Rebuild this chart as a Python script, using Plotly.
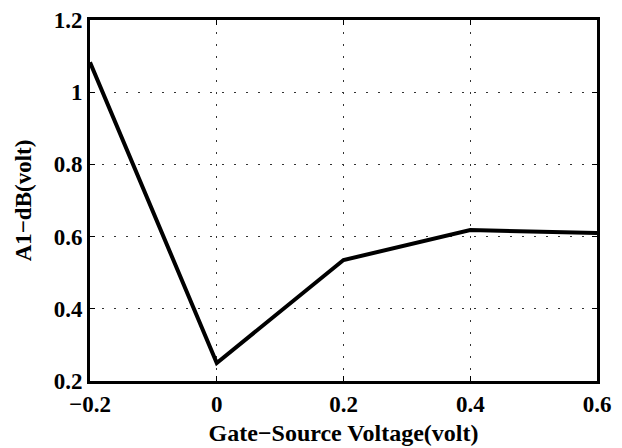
import plotly.graph_objects as go

x_vals = [-0.2, 0.0, 0.2, 0.4, 0.6]
y_vals = [1.083, 0.25, 0.535, 0.618, 0.61]
x_ticks = [-0.2, 0.0, 0.2, 0.4, 0.6]
x_labels = ["\u22120.2", "0", "0.2", "0.4", "0.6"]
y_ticks = [0.2, 0.4, 0.6, 0.8, 1.0, 1.2]
y_labels = ["0.2", "0.4", "0.6", "0.8", "1", "1.2"]

font_family = "Liberation Serif"

fig = go.Figure()
fig.add_trace(go.Scatter(x=x_vals, y=y_vals, mode="lines",
                         line=dict(color="black", width=4)))

axis_common = dict(
    showline=True, linecolor="black", linewidth=3, mirror="ticks",
    ticks="inside", ticklen=5, tickwidth=1, tickcolor="black",
    showgrid=True, gridcolor="#333", griddash="2px,10px", gridwidth=1.2,
    zeroline=False, automargin=False,
    tickfont=dict(family=font_family, size=23, color="black"),
)

fig.update_layout(
    width=622, height=448,
    margin=dict(l=90, r=25, t=20, b=67),
    paper_bgcolor="white", plot_bgcolor="white",
    showlegend=False,
    xaxis=dict(range=[-0.2, 0.6], tickvals=x_ticks,
               ticktext=["<b>%s</b>" % t for t in x_labels],
               title=dict(text="<b>Gate\u2212Source Voltage(volt)</b>",
                          font=dict(family=font_family, size=24, color="black"),
                          standoff=9),
               **axis_common),
    yaxis=dict(range=[0.2, 1.2], tickvals=y_ticks,
               ticktext=["<b>%s</b>" % t for t in y_labels],
               title=dict(text="<b>A1\u2212dB(volt)</b>",
                          font=dict(family=font_family, size=23, color="black"),
                          standoff=16),
               **axis_common),
)

fig.write_html("out.html", config={"displayModeBar": False},
               post_script="document.body.style.margin='0';document.body.style.padding='0';")
